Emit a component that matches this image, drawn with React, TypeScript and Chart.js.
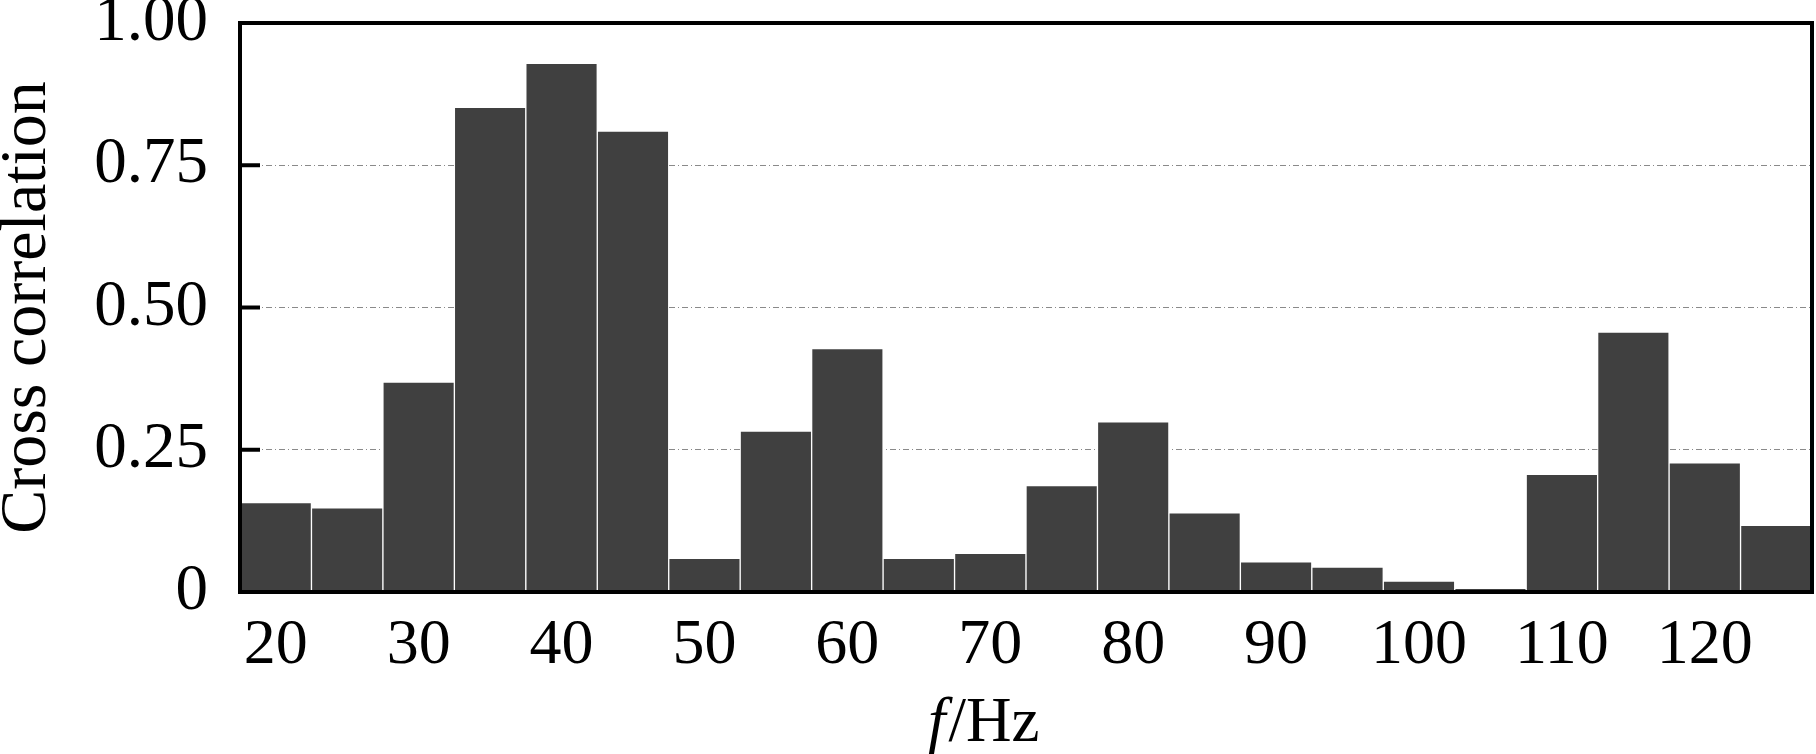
import { useEffect, useRef } from 'react';
import { Chart, registerables, ChartData, ChartOptions, Plugin } from 'chart.js';

Chart.register(...registerables);

// Frequency bins (Hz), one bar each
const FREQUENCIES = ['20', '25', '30', '35', '40', '45', '50', '55', '60', '65', '70', '75', '80', '85', '90', '95', '100', '105', '110', '115', '120', '125'];
// Cross correlation value per bin
const CROSS_CORRELATION = [0.157, 0.148, 0.369, 0.852, 0.929, 0.81, 0.059, 0.283, 0.428, 0.059, 0.068, 0.187, 0.299, 0.139, 0.053, 0.044, 0.019, 0.0065, 0.207, 0.457, 0.227, 0.117];
// Labelled frequencies on the x axis
const X_TICK_LABELS = ['20', '30', '40', '50', '60', '70', '80', '90', '100', '110', '120'];
// y axis ticks
const Y_TICK_LABELS = ['0', '0.25', '0.50', '0.75', '1.00'];

const Y_TITLE = 'Cross correlation';
const X_TITLE_ITALIC = 'f';
const X_TITLE_REST = '/Hz';
const X_TITLE_UNDER = '70';

const SERIF = '"Liberation Serif", "Times New Roman", serif';

// black frame, inward ticks on the left and the mixed-style x title
const framePlugin: Plugin<'bar'> = {
    id: 'frame',
    afterDatasetsDraw(chart) {
        const { ctx, chartArea: a, scales } = chart;
        ctx.save();
        ctx.strokeStyle = '#000';
        ctx.lineWidth = 4;
        ctx.strokeRect(a.left, a.top, a.right - a.left, a.bottom - a.top);

        const y = scales.y;
        y.ticks.forEach((t) => {
            const py = y.getPixelForValue(t.value);
            ctx.beginPath();
            ctx.moveTo(a.left, py);
            ctx.lineTo(a.left + 20, py);
            ctx.stroke();
        });

        const x = scales.x;
        const cx = x.getPixelForValue(FREQUENCIES.indexOf(X_TITLE_UNDER));
        ctx.fillStyle = '#000';
        ctx.textBaseline = 'alphabetic';
        ctx.textAlign = 'left';
        ctx.font = `italic 63px ${SERIF}`;
        const wf = ctx.measureText(X_TITLE_ITALIC).width;
        ctx.font = `63px ${SERIF}`;
        const wr = ctx.measureText(X_TITLE_REST).width;
        const start = cx - (wf + wr) / 2 - 8;
        ctx.font = `italic 63px ${SERIF}`;
        ctx.fillText(X_TITLE_ITALIC, start, 741);
        ctx.font = `63px ${SERIF}`;
        ctx.fillText(X_TITLE_REST, start + wf + 3, 741);
        ctx.restore();
    },
};

const CrossCorrelationChart: React.FC = () => {
    const chartRef = useRef<HTMLCanvasElement | null>(null);

    useEffect(() => {
        document.body.style.margin = '0';
        const ctx = chartRef.current?.getContext('2d');
        if (!ctx) return;

        const data: ChartData<'bar'> = {
            labels: FREQUENCIES,
            datasets: [
                {
                    label: Y_TITLE,
                    data: CROSS_CORRELATION,
                    backgroundColor: '#404040',
                    borderColor: '#ffffff',
                    borderWidth: 1,
                    barPercentage: 1,
                    categoryPercentage: 1,
                },
            ],
        };

        const options: ChartOptions<'bar'> = {
            animation: false,
            responsive: true,
            maintainAspectRatio: false,
            devicePixelRatio: 1,
            layout: { padding: { top: 23, right: 4, left: 0, bottom: 0 } },
            plugins: {
                legend: { display: false },
                tooltip: { enabled: false },
            },
            scales: {
                x: {
                    grid: { display: false },
                    border: { display: false },
                    ticks: {
                        autoSkip: false,
                        maxRotation: 0,
                        padding: 8,
                        color: '#000',
                        font: { family: SERIF, size: 64 },
                        callback: (_v, i) => (X_TICK_LABELS.includes(FREQUENCIES[i]) ? FREQUENCIES[i] : ''),
                    },
                    afterFit: (scale) => {
                        scale.height = 162;
                        scale.paddingLeft = 0;
                        scale.paddingRight = 0;
                    },
                },
                y: {
                    min: 0,
                    max: 1,
                    grid: {
                        color: '#8a8a8a',
                        lineWidth: 1,
                        drawTicks: false,
                    },
                    border: { display: false, dash: [6, 3, 1, 3] },
                    ticks: {
                        stepSize: 0.25,
                        padding: 32,
                        color: '#000',
                        font: { family: SERIF, size: 65 },
                        callback: (_v, i) => Y_TICK_LABELS[i],
                    },
                    title: {
                        display: true,
                        text: Y_TITLE,
                        color: '#000',
                        padding: 0,
                        font: { family: SERIF, size: 66, lineHeight: 0.85 },
                    },
                    afterFit: (scale) => {
                        scale.width = 240;
                        scale.paddingTop = 0;
                        scale.paddingBottom = 0;
                    },
                },
            },
        };

        const chart = new Chart(ctx, {
            type: 'bar',
            data,
            options,
            plugins: [framePlugin],
        });

        return () => {
            chart.destroy();
        };
    }, []);

    return (
        <div style={{ position: 'relative', width: 1816, height: 754 }}>
            <canvas ref={chartRef}></canvas>
        </div>
    );
};

export default function App() {
    return <CrossCorrelationChart />;
}
